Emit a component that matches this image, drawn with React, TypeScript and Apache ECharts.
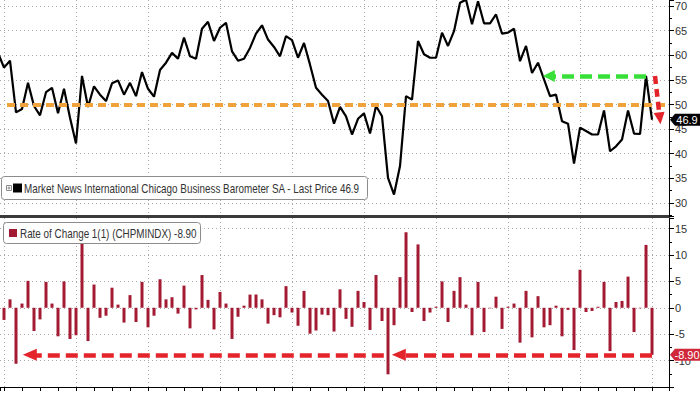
import React, { useEffect, useRef } from 'react';
import * as echarts from 'echarts';

// Month index 0 = Dec 2014; the first value (index -1, Nov 2014) is clipped at the left edge.
const FIRST_MONTH_INDEX = -1;
const pmiValues = [
  60.5, 57.5, 58.9, 48.4, 49.1, 54.4, 49.7, 47.8, 52.5, 53.4, 48.2, 53.2, 47.3, 42.1,
  55.8, 49.5, 53.7, 52.0, 50.7, 54.3, 54.9, 52.0, 54.4, 51.7, 56.6, 53.2, 51.6, 57.0,
  58.5, 60.5, 59.3, 63.6, 59.8, 59.3, 65.4, 66.8, 62.9, 65.6, 66.6, 60.8, 58.9, 59.3,
  61.5, 64.4, 66.1, 63.2, 61.7, 59.8, 63.9, 63.1, 59.5, 62.5, 58.1, 53.4, 52.0, 50.7,
  46.1, 49.5, 47.6, 43.9, 47.1, 48.2, 44.1, 49.7, 47.6, 35.1, 31.7, 37.5, 51.7, 51.0,
  62.9, 60.2, 59.5, 59.5, 64.6, 61.9, 64.9, 70.7, 71.3, 66.3, 71.0, 66.5, 66.5, 68.3,
  64.4, 64.6, 65.4, 58.8, 61.9, 56.4, 58.5, 55.1, 51.7, 52.0, 46.6, 46.1, 38.0, 45.3,
  44.6, 43.9, 43.9, 48.8, 40.5, 41.5, 42.9, 48.8, 44.1, 44.0, 55.8, 46.9,
];
// Rate of change, month index 0..108
const rocValues = [
  -2.3, 1.6, -10.6, 0.8, 5.1, -4.4, -2.2, 4.9, 0.8, -5.4, 5.0, -5.9, -5.2, 13.0,
  -6.3, 4.4, -1.9, -1.5, 3.8, 0.6, -2.8, 2.4, -2.7, 4.9, -3.7, -1.5, 5.4, 1.6,
  2.0, -1.1, 4.2, -3.9, -0.3, 6.2, 1.5, -4.1, 3.0, 0.8, -5.9, -1.7, 0.4, 2.5,
  2.5, 1.6, -3.0, -1.4, -1.8, 4.1, -0.9, -3.4, 3.2, -4.9, -4.3, -1.3, -1.4, -4.5,
  3.5, -2.1, -3.6, 3.2, 1.1, -4.2, 6.2, -2.5, -12.6, -3.3, 5.8, 14.3, -0.8, 12.0,
  -2.5, -0.9, 0.2, 5.0, -2.7, 3.2, 5.8, 0.6, -5.2, 4.9, -4.6, -0.1, 2.1, -4.0,
  0.2, 0.8, -6.6, 3.2, -5.6, 2.2, -3.7, -3.3, 0.4, -5.4, -0.4, -8.0, 7.2, -0.8,
  -0.6, 0.2, 4.9, -8.2, 1.1, 1.3, 5.9, -4.6, -0.1, 11.9, -8.9,
];
const lastPrice = 46.9;
const lastChange = -8.9;
const priceTitle = 'Market News International Chicago Business Barometer SA - Last Price';
const rocTitle = 'Rate of Change 1(1) (CHPMINDX)';

const FONT = "'Liberation Sans',Arial,sans-serif";
const X_MIN = -0.667;
const X_MAX = 110.83;
const ORANGE = '#F2A23A';
const GREEN = '#38DF38';
const RED = '#E3242B';
const BAR = '#A31B33';

const dotted = { color: '#a8a8a8', width: 1, type: [1, 3] as number[] };

function arrowSeries(xIdx: number, yIdx: number, from: number[], to: number[], color: string, dash: number[], size: number[]) {
  return {
    type: 'line',
    xAxisIndex: xIdx,
    yAxisIndex: yIdx,
    data: [],
    silent: true,
    z: 5,
    markLine: {
      silent: true,
      animation: false,
      symbol: ['none', 'triangle'],
      symbolSize: size,
      label: { show: false },
      lineStyle: { color, width: 4.5, type: dash, cap: 'butt' },
      itemStyle: { color },
      emphasis: { disabled: true },
      data: [[{ coord: from }, { coord: to }]],
    },
  };
}

export default function App() {
  const ref = useRef<HTMLDivElement>(null);
  useEffect(() => {
    if (!ref.current) return;
    const chart = echarts.init(ref.current, undefined, { renderer: 'svg' });
    const lineData = pmiValues.map((v, k) => [k + FIRST_MONTH_INDEX, v]);
    const barData = rocValues.map((v, k) => [k, v]);
    const tagPath = 'path://M0,6L5,0L30,0L30,12L5,12Z';

    const xCommon = {
      type: 'value',
      min: X_MIN,
      max: X_MAX,
      minInterval: 12,
      maxInterval: 12,
      axisLabel: { show: false },
      splitLine: { show: true, showMinLine: false, showMaxLine: false, lineStyle: dotted },
    };
    const yCommon = {
      type: 'value',
      position: 'right',
      minInterval: 5,
      maxInterval: 5,
      axisLine: { show: true, onZero: false, lineStyle: { color: '#000', width: 1 } },
      axisTick: { show: true, length: 5, lineStyle: { color: '#000' } },
      minorTick: { show: true, splitNumber: 2, length: 3, lineStyle: { color: '#000' } },
      axisLabel: {
        show: true,
        showMinLabel: false,
        showMaxLabel: false,
        margin: 6,
        color: '#333',
        fontSize: 11,
        fontFamily: FONT,
      },
      splitLine: { show: true, showMinLine: false, showMaxLine: false, lineStyle: dotted },
    };

    const option: any = {
      animation: false,
      backgroundColor: '#fff',
      grid: [
        { left: 0, top: 0, width: 669, height: 216, outerBoundsMode: 'none', containLabel: false },
        { left: 0, top: 218, width: 669, height: 169, outerBoundsMode: 'none', containLabel: false },
      ],
      xAxis: [
        {
          ...xCommon,
          gridIndex: 0,
          axisLine: { show: true, onZero: false, lineStyle: { color: '#3a3a3a', width: 3 } },
          axisTick: { show: false },
        },
        {
          ...xCommon,
          gridIndex: 1,
          axisLine: { show: true, onZero: false, lineStyle: { color: '#000', width: 1 } },
          axisTick: { show: true, length: 4, lineStyle: { color: '#000' } },
          minorTick: { show: true, splitNumber: 4, length: 4, lineStyle: { color: '#000' } },
        },
      ],
      yAxis: [
        { ...yCommon, gridIndex: 0, min: 27.34, max: 71.24 },
        { ...yCommon, gridIndex: 1, min: -15, max: 17 },
      ],
      series: [
        {
          type: 'line',
          xAxisIndex: 0,
          yAxisIndex: 0,
          data: lineData,
          showSymbol: false,
          symbol: 'none',
          silent: true,
          z: 4,
          lineStyle: { color: '#000', width: 2.2 },
          markLine: {
            silent: true,
            symbol: ['none', 'none'],
            label: { show: false },
            lineStyle: { color: ORANGE, width: 4, type: [8, 5], cap: 'butt' },
            emphasis: { disabled: true },
            data: [[{ coord: [0.5, 50] }, { coord: [X_MAX, 50] }]],
          },
          markPoint: {
            silent: true,
            symbol: tagPath,
            symbolSize: [30, 12],
            symbolOffset: [16, 0],
            itemStyle: { color: '#000' },
            label: {
              show: true,
              position: 'inside',
              offset: [2, 0],
              color: '#fff',
              fontSize: 11,
              fontFamily: FONT,
              formatter: String(lastPrice),
            },
            data: [{ coord: [X_MAX, lastPrice], value: lastPrice }],
          },
        },
        {
          type: 'bar',
          xAxisIndex: 1,
          yAxisIndex: 1,
          data: barData,
          barWidth: 3,
          silent: true,
          z: 3,
          itemStyle: { color: BAR },
          markPoint: {
            silent: true,
            symbol: tagPath,
            symbolSize: [30, 12],
            symbolOffset: [16, 0],
            itemStyle: { color: '#D0283A' },
            label: {
              show: true,
              position: 'inside',
              offset: [2, 0],
              color: '#fff',
              fontSize: 11,
              fontFamily: FONT,
              formatter: lastChange.toFixed(2),
            },
            data: [{ coord: [X_MAX, lastChange], value: lastChange }],
          },
        },
        arrowSeries(0, 0, [107, 55.8], [90.8, 55.8], GREEN, [12, 6], [12, 12]),
        arrowSeries(0, 0, [108.5, 55.8], [109.3, 47.2], RED, [8, 5], [11, 12]),
        arrowSeries(1, 1, [108, lastChange], [65.8, lastChange], RED, [12, 6], [12, 14]),
        arrowSeries(1, 1, [63.3, lastChange], [4.3, lastChange], RED, [12, 6], [12, 14]),
      ],
      graphic: [
        { type: 'rect', z: 100, shape: { x: 1.5, y: 176.5, width: 366, height: 23, r: 3 }, style: { fill: '#fff', stroke: '#8c8c8c', lineWidth: 1 } },
        { type: 'rect', z: 101, shape: { x: 6.5, y: 185.5, width: 5, height: 5 }, style: { fill: '#fff', stroke: '#8a8a8a', lineWidth: 1 } },
        { type: 'line', z: 101, shape: { x1: 7.5, y1: 188, x2: 10.5, y2: 188 }, style: { stroke: '#8a8a8a', lineWidth: 1 } },
        { type: 'line', z: 101, shape: { x1: 9, y1: 186.5, x2: 9, y2: 189.5 }, style: { stroke: '#8a8a8a', lineWidth: 1 } },
        { type: 'rect', z: 101, shape: { x: 13, y: 183.5, width: 9, height: 9 }, style: { fill: '#000' } },
        {
          type: 'text', z: 101, x: 24, y: 188.5, scaleX: 0.76,
          style: { text: `${priceTitle} ${lastPrice}`, fontSize: 13, fontFamily: FONT, fill: '#333', verticalAlign: 'middle' },
        },
        { type: 'rect', z: 100, shape: { x: 3.5, y: 222.5, width: 197, height: 21, r: 3 }, style: { fill: '#fff', stroke: '#8c8c8c', lineWidth: 1 } },
        { type: 'rect', z: 101, shape: { x: 9, y: 229, width: 8, height: 8 }, style: { fill: BAR } },
        {
          type: 'text', z: 101, x: 20, y: 233.5, scaleX: 0.76,
          style: { text: `${rocTitle} ${lastChange.toFixed(2)}`, fontSize: 13, fontFamily: FONT, fill: '#333', verticalAlign: 'middle' },
        },
      ],
    };
    chart.setOption(option);
    return () => chart.dispose();
  }, []);
  return (
    <div
      ref={ref}
      style={{ position: 'absolute', left: 0, top: 0, width: 700, height: 394, background: '#fff' }}
    />
  );
}
